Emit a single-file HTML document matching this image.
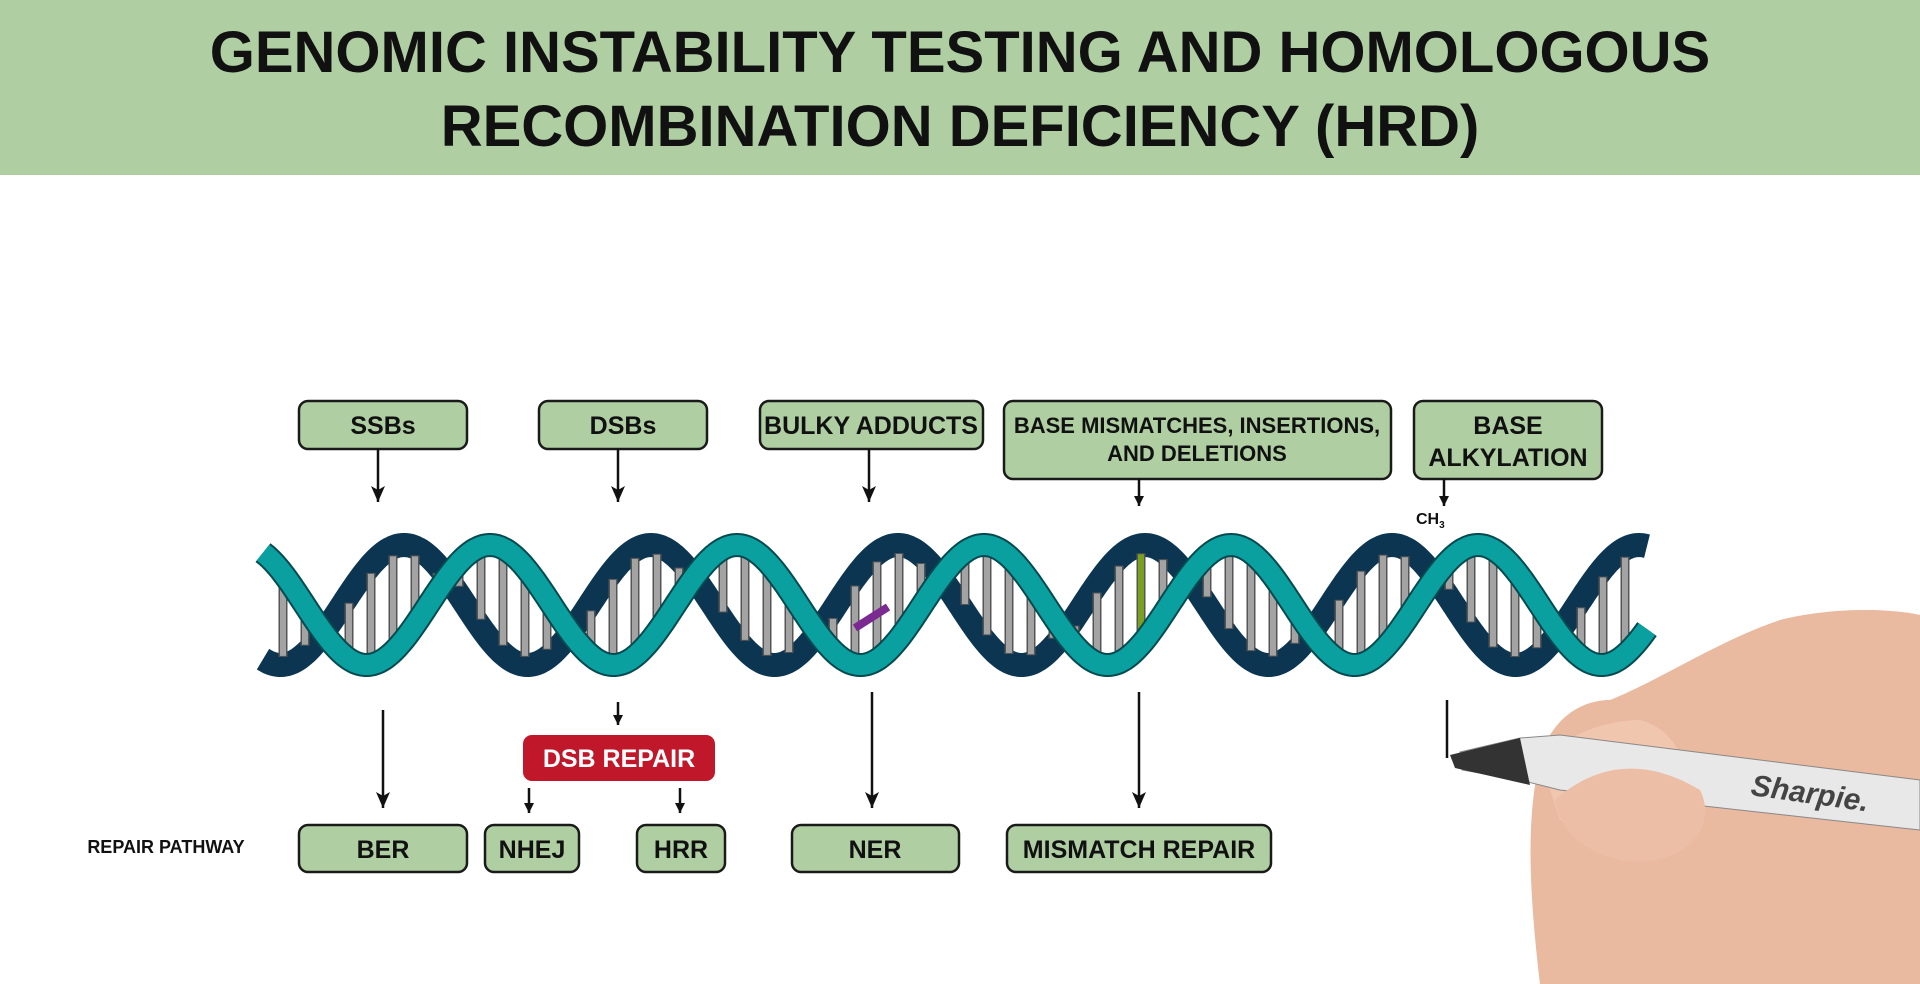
<!DOCTYPE html>
<html><head><meta charset="utf-8"><style>
html,body{margin:0;padding:0;background:#fff;width:1920px;height:984px;overflow:hidden}
svg{display:block}
text{font-family:"Liberation Sans",sans-serif;font-weight:bold}
</style></head><body>
<svg id="s" width="1920" height="984" viewBox="0 0 1920 984" xmlns="http://www.w3.org/2000/svg">
<defs><marker id="a" markerWidth="10" markerHeight="10" refX="10" refY="5" orient="auto" markerUnits="userSpaceOnUse" viewBox="0 0 10 10"><path d="M0,0 L10,5 L0,10 Z" fill="#111"/></marker>
<marker id="b" markerWidth="16" markerHeight="14" refX="16" refY="7" orient="auto" markerUnits="userSpaceOnUse" viewBox="0 0 16 14"><path d="M0,0 L16,7 L0,14 L4,7 Z" fill="#111"/></marker></defs>
<rect x="0" y="0" width="1920" height="175" fill="#afcfa3"/>
<text x="960" y="72" font-size="58" text-anchor="middle" fill="#111">GENOMIC INSTABILITY TESTING AND HOMOLOGOUS</text>
<text x="960" y="146" font-size="58" text-anchor="middle" fill="#111">RECOMBINATION DEFICIENCY (HRD)</text>
<g id="dna"></g>
<g stroke="#1a1a1a" stroke-width="2.5" fill="#afcfa3">
<rect x="299" y="401" width="168" height="48" rx="9"/>
<rect x="539" y="401" width="168" height="48" rx="9"/>
<rect x="760" y="401" width="223" height="48" rx="9"/>
<rect x="1004" y="401" width="387" height="78" rx="9"/>
<rect x="1414" y="401" width="188" height="78" rx="9"/>
<rect x="299" y="825" width="168" height="47" rx="9"/>
<rect x="485" y="825" width="94" height="47" rx="9"/>
<rect x="637" y="825" width="88" height="47" rx="9"/>
<rect x="792" y="825" width="167" height="47" rx="9"/>
<rect x="1007" y="825" width="264" height="47" rx="9"/>
</g>
<rect x="523" y="735" width="192" height="46" rx="9" fill="#c0182a"/>
<g font-size="25" fill="#111" text-anchor="middle">
<text x="383" y="434">SSBs</text>
<text x="623" y="434">DSBs</text>
<text x="871" y="434">BULKY ADDUCTS</text>
<text x="1197" y="433" font-size="22">BASE MISMATCHES, INSERTIONS,</text>
<text x="1197" y="461" font-size="22">AND DELETIONS</text>
<text x="1508" y="434">BASE</text>
<text x="1508" y="466">ALKYLATION</text>
<text x="383" y="858">BER</text>
<text x="532" y="858">NHEJ</text>
<text x="681" y="858">HRR</text>
<text x="875" y="858">NER</text>
<text x="1139" y="858">MISMATCH REPAIR</text>
<text x="619" y="767" fill="#fff">DSB REPAIR</text>
<text x="166" y="853" font-size="18">REPAIR PATHWAY</text>
<text x="1416" y="524" font-size="16" text-anchor="start">CH<tspan font-size="10" dy="4">3</tspan></text>
</g>
<g stroke="#111" stroke-width="2.5">
<line x1="378" y1="449" x2="378" y2="502" marker-end="url(#b)"/>
<line x1="618" y1="449" x2="618" y2="502" marker-end="url(#b)"/>
<line x1="869" y1="449" x2="869" y2="502" marker-end="url(#b)"/>
<line x1="1139" y1="479" x2="1139" y2="506" marker-end="url(#a)"/>
<line x1="1444" y1="479" x2="1444" y2="506" marker-end="url(#a)"/>
<line x1="383" y1="710" x2="383" y2="808" marker-end="url(#b)"/>
<line x1="618" y1="702" x2="618" y2="725" marker-end="url(#a)"/>
<line x1="529" y1="788" x2="529" y2="813" marker-end="url(#a)"/>
<line x1="680" y1="788" x2="680" y2="813" marker-end="url(#a)"/>
<line x1="872" y1="692" x2="872" y2="808" marker-end="url(#b)"/>
<line x1="1139" y1="692" x2="1139" y2="808" marker-end="url(#b)"/>
<line x1="1447" y1="700" x2="1447" y2="758"/>
</g>
<!-- hand -->
<path d="M1540,984 C1530,900 1525,820 1540,760 C1550,720 1580,700 1610,700 C1660,680 1720,640 1780,620 C1840,605 1900,610 1920,615 L1920,984 Z" fill="#e9b9a0"/>
<path d="M1540,760 C1560,740 1600,720 1640,720 C1680,730 1700,780 1680,820 C1660,840 1600,830 1560,820 Z" fill="#f0c6ae"/>
<path d="M1460,752 L1520,738 L1560,735 L1920,780 L1920,830 L1560,790 L1520,780 L1462,770 Z" fill="#e8e8e8" stroke="#888" stroke-width="1"/>
<path d="M1450,755 L1520,738 L1530,785 L1455,768 Z" fill="#333"/>
<path d="M1555,800 C1600,760 1650,760 1700,790 C1720,830 1680,870 1620,860 C1580,850 1560,830 1555,800 Z" fill="#ecbea6"/>
<text x="1750" y="795" font-size="30" fill="#444" font-style="italic" transform="rotate(8 1750 795)">Sharpie.</text>
</svg>
<script>
(function(){
var g=document.getElementById('dna'),ns='http://www.w3.org/2000/svg';
var cy=605,A=60,P=247,x0=263,x1=1647;
function ty(x){return cy-A*Math.cos(2*Math.PI*(x-243)/P);}
function ny(x){return cy-A*Math.cos(2*Math.PI*(x-404)/P);}
function path(f,a,b){var d='';for(var x=a;x<=b;x+=2){d+=(x==a?'M':'L')+x+','+f(x).toFixed(1);}return d;}
function el(t,at){var e=document.createElementNS(ns,t);for(var k in at)e.setAttribute(k,at[k]);g.appendChild(e);return e;}
el('path',{d:path(ny,x0,x1),fill:'none',stroke:'#0b3550','stroke-width':24});
for(var x=x0+20;x<x1-20;x+=22){
 var a=ty(x),b=ny(x);
 var col='#a3a3a3';
 if(Math.abs(x-1139)<11)col='#7aa020';
 el('line',{x1:x,y1:Math.min(a,b)+8,x2:x,y2:Math.max(a,b)-8,stroke:'#555','stroke-width':9});
 el('line',{x1:x,y1:Math.min(a,b)+9,x2:x,y2:Math.max(a,b)-9,stroke:col,'stroke-width':6});
}
el('line',{x1:855,y1:628,x2:888,y2:607,stroke:'#7a2a90','stroke-width':8});
el('path',{d:path(ty,x0,x1),fill:'none',stroke:'#064a50','stroke-width':24});
el('path',{d:path(ty,x0,x1),fill:'none',stroke:'#0aa0a0','stroke-width':20});
})();
</script>
</body></html>
